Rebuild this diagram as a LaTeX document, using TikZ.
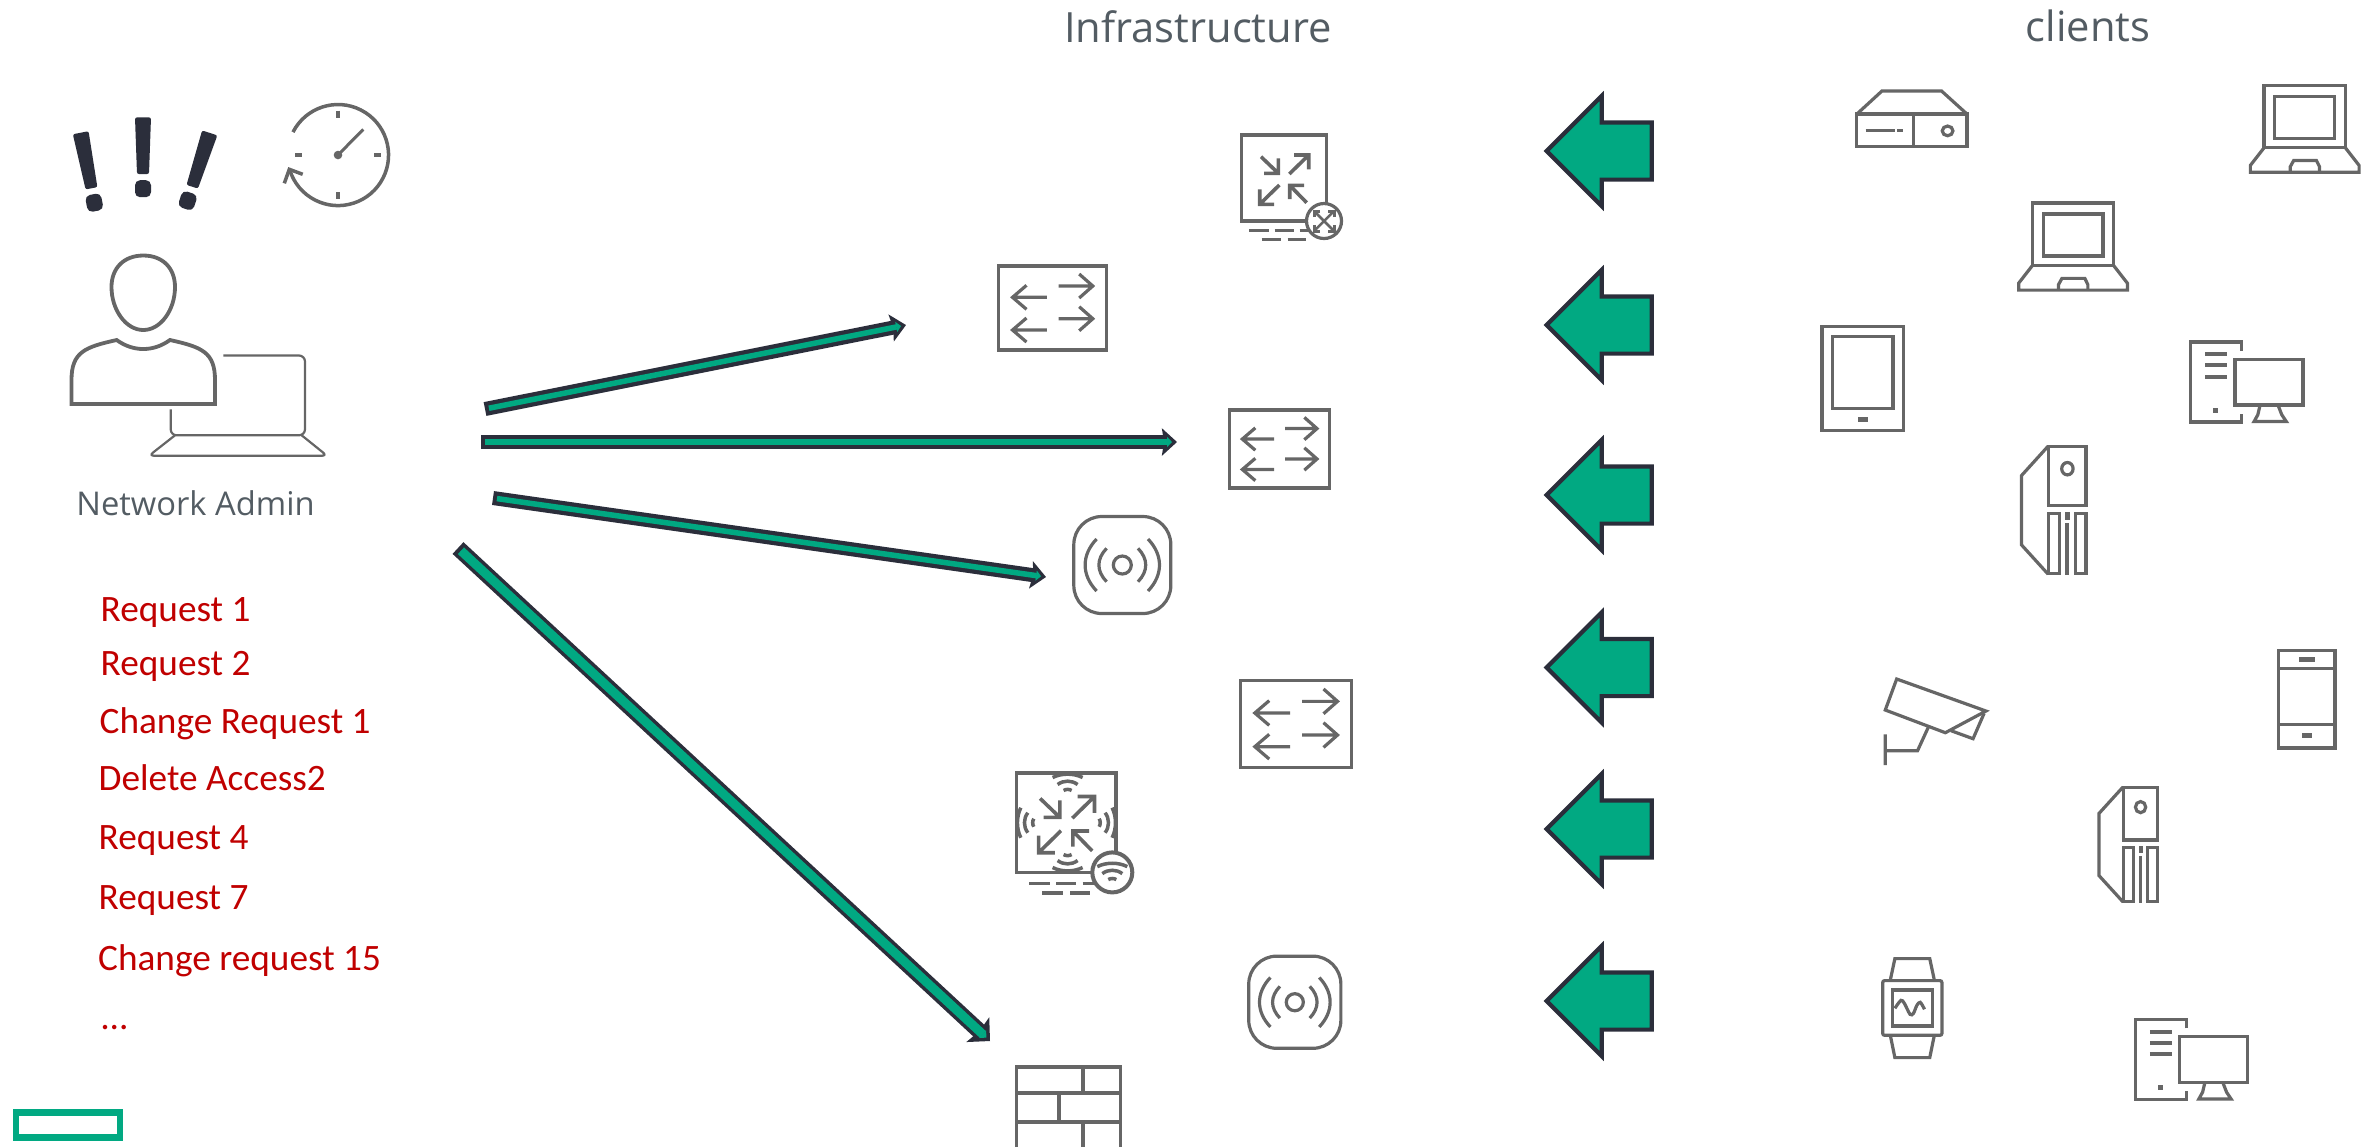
\documentclass[tikz,border=0pt]{standalone}
\usepackage{fontspec}
\setmainfont{Open Sans}
\newfontfamily\reqfont{Carlito}
\usetikzlibrary{arrows.meta,shapes.arrows}

\definecolor{icongray}{HTML}{666666}
\definecolor{darkline}{HTML}{2B2E3B}
\definecolor{hpegreen}{HTML}{01A982}
\definecolor{titlegray}{HTML}{535C63}
\definecolor{reqred}{HTML}{C00000}

\tikzset{
  iconline/.style={draw=icongray,line width=0.032cm},
  flowline/.style n args={4}{draw=darkline,line width=#1,
    -{Stealth[length=#4,width=#3,inset=0.02cm]},
    postaction={draw=hpegreen,line width=#2,shorten <=0.04cm,shorten >=0.05cm,
      -{Triangle[length=0.05cm,width=0.1cm]}}},
  flowblock/.style={shape=single arrow,draw=darkline,fill=hpegreen,line width=0.042cm,
    inner xsep=0pt,inner ysep=0.265cm,minimum width=1.06cm,minimum height=1.05cm,
    single arrow head extend=0.265cm,single arrow tip angle=90,shape border rotate=180},
  titletext/.style={inner sep=0pt,anchor=base,text=titlegray,font=\fontsize{11.85}{14}\selectfont},
  admintext/.style={inner sep=0pt,anchor=base,text=titlegray,font=\fontsize{9.3}{12}\selectfont},
  reqtext/.style={inner sep=0pt,anchor=base west,text=reqred,font=\reqfont\fontsize{10.6}{12}\selectfont},
  % Icons, in local pixel coordinates round their centre
  exclaim/.pic={
    \fill[darkline,rounded corners=0.02cm] (-8,-71.3) -- (8,-71.3) -- (6,-14.7) -- (-6,-14.7) -- cycle;
    \fill[darkline,rounded corners=0.05cm] (-8,-8.5) rectangle (8,8.5);
  },
  switchicon/.pic={
    \draw[iconline] (-54,-42) rectangle (54,42);
    \foreach \y in {-10.7,22} {
      \draw[iconline] (-5.7,\y) -- (-40,\y) (-26,\y-12) -- (-40,\y) -- (-26,\y+12);
    }
    \foreach \y in {-22,10.7} {
      \draw[iconline] (6,\y) -- (40.3,\y) (26.7,\y-12) -- (40.3,\y) -- (26.7,\y+12);
    }
  },
  apicon/.pic={
    \draw[iconline] (-48.5,-48.5) [rounded corners=0.28cm] rectangle (48.5,48.5);
    \draw[iconline] (0,0) circle[radius=9];
    \foreach \s in {-1,1} {
      \draw[iconline] (\s*15.7,-16.7) .. controls (\s*26,-6) and (\s*26,6) .. (\s*15.7,16.7);
      \draw[iconline] (\s*25.7,-26) .. controls (\s*41,-10) and (\s*41,10) .. (\s*25.7,26);
    }
  },
  wifisign/.pic={
    \draw[iconline,line width=0.035cm] (-15,-13.5) .. controls (-6,-18) and (6,-18) .. (15,-13.5);
    \draw[iconline,line width=0.035cm] (-10,-6.5) .. controls (-4,-11) and (4,-11) .. (10,-6.5);
    \draw[iconline,line width=0.035cm] (-4,-0.5) .. controls (-2,-2) and (2,-2) .. (4,-0.5);
  },
  dashrows/.pic={
    \draw[iconline] (-35,0) -- (-15.5,0) (-9.5,0) -- (9.5,0) (15.5,0) -- (26,0);
    \draw[iconline] (-22.5,9) -- (-3.5,9) (3.5,9) -- (22,9);
  },
  fourarrows/.pic={
    \draw[iconline,line width=0.036cm] (-23,-21.3) -- (-5.7,-4.7) (-5.7,-19.7) -- (-5.7,-4.7) -- (-20,-4.7);
    \draw[iconline,line width=0.036cm] (5.3,-4) -- (24.7,-23) (10,-23) -- (24.7,-23) -- (24.7,-8.7);
    \draw[iconline,line width=0.036cm] (-4.7,7) -- (-24.3,26.3) (-24.3,11.3) -- (-24.3,26.3) -- (-10,26.3);
    \draw[iconline,line width=0.036cm] (22.7,24.7) -- (5.7,7.3) (5.7,21) -- (5.7,7.3) -- (20,7.3);
  },
  routericon/.pic={
    \draw[iconline,line width=0.036cm] (-42.5,-43) rectangle (42.5,43);
    \pic {fourarrows};
    \pic at (0,52.7) {dashrows};
    \filldraw[iconline,fill=white] (40,43) circle[radius=17.5];
    % Small arrows in the badge
    \begin{scope}[shift={(40,43)}]
      \draw[iconline,line width=0.025cm] (-9,-9) -- (9,9) (-9,9) -- (9,-9);
      \foreach \a/\b in {-1/-1,1/-1,1/1,-1/1} {
        \draw[iconline,line width=0.03cm] (\a*10,\b*4) -- (\a*10,\b*10) -- (\a*4,\b*10);
      }
    \end{scope}
  },
  wirelessicon/.pic={
    \draw[iconline,line width=0.036cm] (-49.7,-49.7) rectangle (49.7,49.7);
    \pic[scale=1.14] {fourarrows};
    \pic at (1.3,-31.7) {wifisign};
    \pic[rotate=-90] at (32.3,0) {wifisign};
    \pic[rotate=90] at (-32,0) {wifisign};
    \pic[rotate=180] at (1.3,31.3) {wifisign};
    \pic[scale=1.06] at (0,60.7) {dashrows};
    \filldraw[iconline,line width=0.04cm,fill=white] (46,49.7) circle[radius=20];
    \pic at (46,57.4) {wifisign};
  },
  laptopicon/.pic={
    \draw[iconline] (-35.7,-41.7) rectangle (35.7,19);
    \draw[iconline] (-26.2,-31) rectangle (26.2,9.7);
    \draw[iconline] (-35.7,19) -- (-47.7,36) -- (-47.7,42.7) -- (47.7,42.7) -- (47.7,36) -- (35.7,19);
    \draw[iconline] (-12.7,42.7) -- (-12.7,37.3) -- (-9.7,31.3) -- (10.3,31.3) -- (13,37.3) -- (13,42.7);
  },
  desktopicon/.pic={
    \draw[iconline] (-4,-30) -- (-4,-38.7) -- (-49,-38.7) -- (-49,38.7) -- (-4,38.7) -- (-4,31);
    \foreach \y in {-26.7,-16,-5.3} {
      \draw[iconline,line width=0.04cm] (-36.3,\y) -- (-17,\y);
    }
    \fill[icongray] (-29.3,25) rectangle (-25,30);
    \draw[iconline] (-10,-21.7) rectangle (49.7,22.3);
    \draw[iconline] (12,22.3) -- (10,31.7) -- (6.7,38.3) -- (35,38.3) -- (31,31.7) -- (27.7,22.3);
  },
  towericon/.pic={
    \draw[iconline] (-4.3,-61.3) rectangle (28.3,-4.7);
    \draw[iconline] (-5,-61.7) -- (-28.3,-33.3) -- (-28.3,33.7) -- (-5,62);
    \draw[iconline] (-4.3,3.3) rectangle (5,61.7);
    \draw[iconline] (19,3.3) rectangle (28.3,61.7);
    \fill[icongray] (10,1.7) rectangle (14.3,9.3);
    \fill[icongray] (10.3,12.7) rectangle (13.7,63.3);
    \draw[iconline] (12,-40) circle[x radius=5,y radius=6];
  },
}

\begin{document}
\begin{tikzpicture}[x=0.01cm,y=-0.01cm]
  \useasboundingbox (0,0) rectangle (2376,1147);

  % Titles
  \node[titletext] (infra) at (1198,42.5) {Infrastructure};
  \node[titletext] (clients) at (2088,41.5) {clients};
  \node[admintext] (admin) at (195.5,515) {Network Admin};

  % Request list
  \foreach \i/\x/\y/\txt in {1/100/621.5/Request 1,2/100/675.8/Request 2,3/99/733.5/Change Request 1,
      4/98/790/Delete Access2,5/98/849/Request 4,6/98/909/Request 7,
      7/97.5/970/Change request 15,8/101/1029.5/…} {
    \node[reqtext] (req\i) at (\x,\y) {\txt};
  }

  % Exclamation marks
  \pic[rotate=11] at (94.3,202.7) {exclaim};
  \pic at (143,188.7) {exclaim};
  \pic[rotate=-18] at (187.7,200.7) {exclaim};

  % Clock
  \draw[iconline,line width=0.035cm] (293,132.1) arc[start angle=153,end angle=-163,radius=0.505cm];
  \draw[iconline,line width=0.035cm] (284.3,183.3) -- (289.3,169.3) -- (302.7,174.3);
  \draw[iconline,line width=0.035cm] (338,110.7) -- (338,117.7) (338,192) -- (338,198.7)
    (295.3,155) -- (302,155) (374,155) -- (381,155);
  \draw[iconline,line width=0.03cm] (338,155) -- (363.3,129.3);
  \fill[icongray] (338,155) circle[radius=4.3];

  % Admin figure
  \draw[iconline,line width=0.038cm] (143.3,255.5) .. controls (124,255.5) and (111.5,268) .. (111.5,287)
    .. controls (111.5,310) and (126,330) .. (143.3,330) .. controls (160.6,330) and (175,310) .. (175,287)
    .. controls (175,268) and (162.6,255.5) .. (143.3,255.5) -- cycle;
  \draw[iconline,line width=0.038cm] (71.5,404) -- (71.5,380) .. controls (71.5,352) and (85,347) .. (116.7,340)
    .. controls (125,346) and (134,349) .. (143.3,349) .. controls (152.6,349) and (161.6,346) .. (170,340)
    .. controls (201.6,347) and (215,352) .. (215,380) -- (215,404) -- cycle;

  % Laptop behind the figure
  \draw[iconline,line width=0.022cm,rounded corners=0.06cm] (223.3,355.5) -- (305,355.5) -- (305,435.3)
    -- (170.7,435.3) -- (170.7,409.3);
  \draw[iconline,line width=0.022cm,rounded corners=0.05cm] (175,435.3) -- (149,455.7)
    -- (327,455.7) -- (301.7,435.3);

  % Infrastructure devices
  \pic at (1284,178) {routericon};
  \pic at (1052.5,308) {switchicon};
  \pic[scale=0.93] at (1279.5,449) {switchicon};
  \pic at (1122.3,565) {apicon};
  \pic[scale=1.03] at (1296,724) {switchicon};
  \pic at (1066.3,822.7) {wirelessicon};
  \pic[scale=0.95] at (1294.8,1002.2) {apicon};

  % Firewall, cut off by the page
  \draw[iconline,line width=0.036cm] (1016.5,1147) -- (1016.5,1067) -- (1120.5,1067) -- (1120.5,1147);
  \draw[iconline,line width=0.036cm] (1016.5,1093) -- (1120.5,1093) (1016.5,1121.7) -- (1120.5,1121.7);
  \draw[iconline,line width=0.036cm] (1082.7,1067) -- (1082.7,1093) (1059,1093) -- (1059,1121.7)
    (1082.7,1121.7) -- (1082.7,1147);

  % Arrows from the admin to the devices
  \foreach \i/\xa/\ya/\xb/\yb/\wa/\wb/\wc/\wl in {1/485/409/906/325/0.14/0.055/0.27/0.15,
      2/481/442/1177/442/0.14/0.055/0.27/0.15,3/493/498/1046/577/0.14/0.055/0.27/0.15,
      4/458/548/990/1041/0.16/0.09/0.33/0.165} {
    \coordinate (out\i) at (\xa,\ya);
    \coordinate (dev\i) at (\xb,\yb);
    \draw[flowline={\wa cm}{\wb cm}{\wc cm}{\wl cm}] (out\i) -- (dev\i);
  }

  % Block arrows from the clients
  \foreach \i/\y in {1/151,2/325,3/495,4/667.5,5/829,6/1001} {
    \node[flowblock] (flow\i) at (1613.5,\y) {};
  }

  % Clients
  \begin{scope}[shift={(1911.9,119.2)},xscale=1.14,yscale=1.033]
    \draw[iconline] (-48.3,-5) -- (-26.3,-27.3) -- (26,-27.3) -- (48.3,-5);
    \draw[iconline] (-48.3,-5) rectangle (48.3,26.7);
    \draw[iconline] (1.3,-5) -- (1.3,26.7) (-40.7,11) -- (-15,11);
    \fill[icongray] (-13,9.3) rectangle (-8,12.7);
    \draw[iconline] (31.3,11.3) circle[radius=4.7];
  \end{scope}
  \pic[xscale=1.14,yscale=1.033] at (2304.7,128.2) {laptopicon};
  \pic[xscale=1.14,yscale=1.033] at (2073,246) {laptopicon};
  \begin{scope}[shift={(1862.7,378.5)},xscale=1.14,yscale=1.033]
    \draw[iconline] (-35.8,-50.7) rectangle (35.8,50.7);
    \draw[iconline] (-26.5,-40.7) rectangle (26.5,29.3);
    \fill[icongray] (-4,37.3) rectangle (4.8,42);
  \end{scope}
  \pic[xscale=1.14,yscale=1.033] at (2246.4,382) {desktopicon};
  \pic[xscale=1.14,yscale=1.033] at (2053.7,510) {towericon};
  \begin{scope}[shift={(2306.8,699.3)},xscale=1.14]
    \draw[iconline] (-24.7,-48.7) rectangle (24.7,48.7);
    \draw[iconline] (-24.7,-31) -- (24.7,-31) (-24.7,25) -- (24.7,25);
    \fill[icongray] (-7,-42.3) rectangle (7.3,-37.3);
    \fill[icongray] (-4.3,33.7) rectangle (4.7,38.3);
  \end{scope}
  \begin{scope}[shift={(1932,720)},xscale=1.14]
    \draw[iconline] (-31,-41) -- (47.3,-9) -- (11.7,12.7) -- (-41,-10) -- cycle;
    \draw[iconline] (45.7,-6.7) -- (36,18.7) -- (16.7,10.7);
    \draw[iconline] (-3.3,7.3) -- (-12.7,30.7) -- (-41,30.7) (-41,14.3) -- (-41,45);
  \end{scope}
  \pic[xscale=1.03,yscale=0.93] at (2128.2,844.3) {towericon};
  \begin{scope}[shift={(1912.3,1008.3)},xscale=1.14]
    \draw[iconline] (-19.3,-28.3) -- (-15.3,-49.7) -- (15.3,-49.7) -- (19.3,-28.3);
    \draw[iconline,rounded corners=0.02cm] (-26,-27.7) rectangle (26,27);
    \draw[iconline] (-17.7,-18.3) rectangle (17.7,17.7);
    \draw[iconline] (-19.3,27) -- (-15.3,49.3) -- (15.3,49.3) -- (19.3,27);
    \draw[iconline] plot[smooth] coordinates {(-15.3,0) (-10,-8) (-7,-5) (-2,6) (1,5) (4,-3) (7,-6) (10.7,1)};
  \end{scope}
  \pic[xscale=1.14,yscale=1.035] at (2191.2,1059.3) {desktopicon};

  % Logo
  \draw[hpegreen,line width=0.063cm] (16,1112.5) rectangle (120.3,1137.5);
\end{tikzpicture}
\end{document}
